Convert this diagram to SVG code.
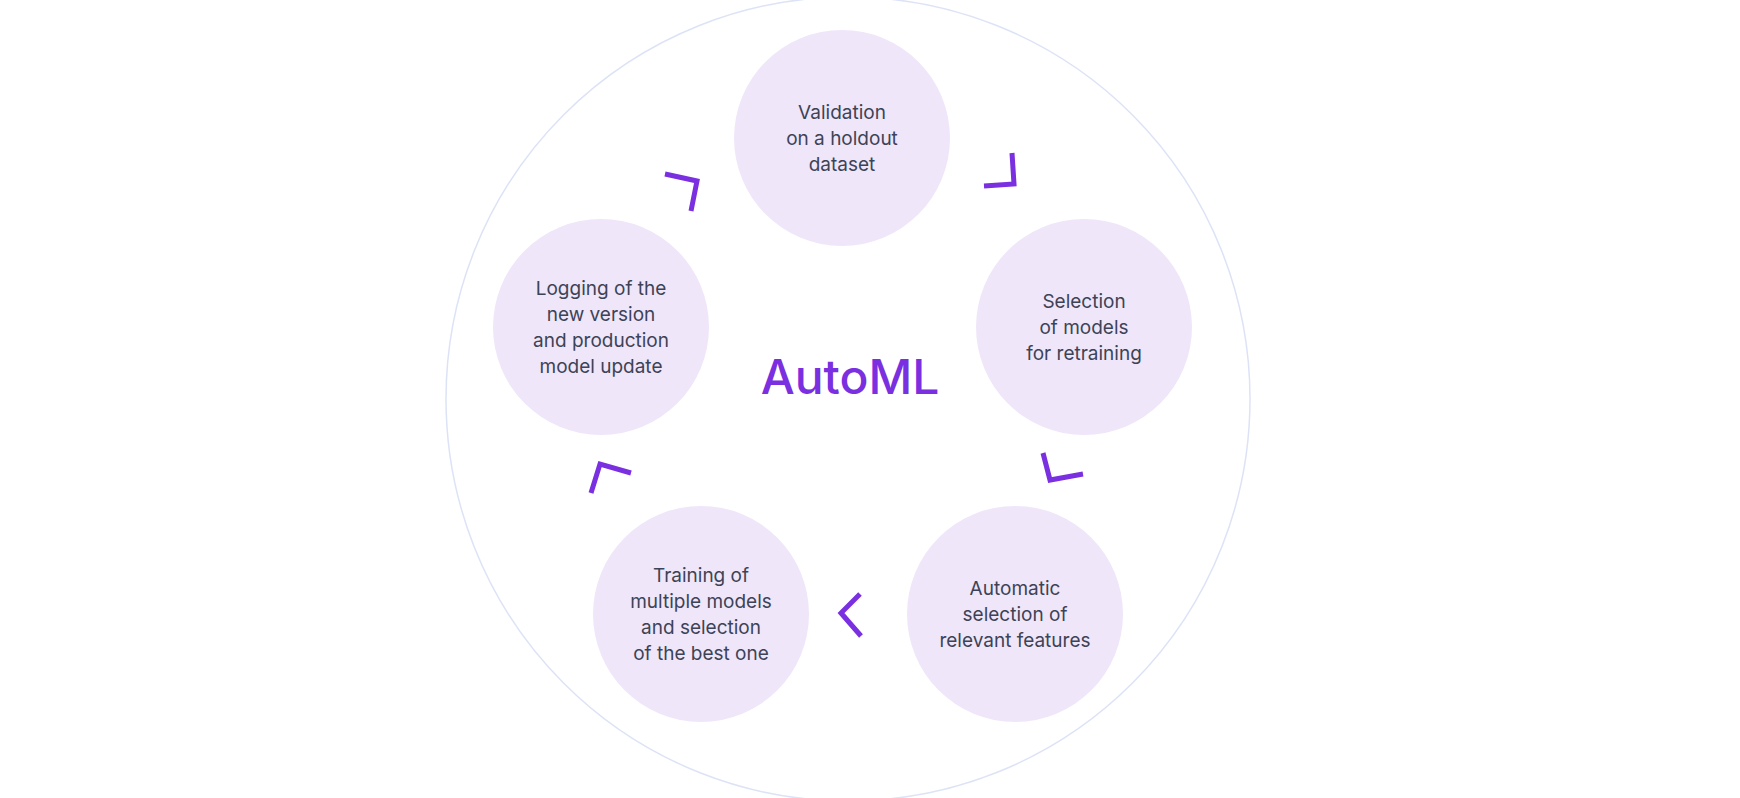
<svg xmlns="http://www.w3.org/2000/svg" width="1740" height="798" viewBox="0 0 1740 798">
<style>
.n{fill:#efe6fa}
.t{font-family:Inter,"Open Sans",sans-serif;font-size:19px;fill:#3d4356;text-anchor:middle}
.c{fill:none;stroke:#7a2fe0;stroke-width:5;stroke-linecap:butt;stroke-linejoin:miter}
</style>
<rect width="1740" height="798" fill="#fff"/>
<circle cx="848" cy="399" r="402" fill="none" stroke="#dde3f6" stroke-width="1.5"/>
<text x="850" y="394" font-family="Inter,'Open Sans',sans-serif" font-size="48" font-weight="500" fill="#7a2fe0" text-anchor="middle">AutoML</text>
<g id="n1"><circle class="n" cx="842" cy="138" r="108"/><text class="t" x="842" y="119">Validation</text><text class="t" x="842" y="145">on a holdout</text><text class="t" x="842" y="171">dataset</text></g>
<g id="n2"><circle class="n" cx="1084" cy="327" r="108"/><text class="t" x="1084" y="308">Selection</text><text class="t" x="1084" y="334">of models</text><text class="t" x="1084" y="360">for retraining</text></g>
<g id="n3"><circle class="n" cx="1015" cy="614" r="108"/><text class="t" x="1015" y="595">Automatic</text><text class="t" x="1015" y="621">selection of</text><text class="t" x="1015" y="647">relevant features</text></g>
<g id="n4"><circle class="n" cx="701" cy="614" r="108"/><text class="t" x="701" y="582">Training of</text><text class="t" x="701" y="608">multiple models</text><text class="t" x="701" y="634">and selection</text><text class="t" x="701" y="660">of the best one</text></g>
<g id="n5"><circle class="n" cx="601" cy="327" r="108"/><text class="t" x="601" y="295">Logging of the</text><text class="t" x="601" y="321">new version</text><text class="t" x="601" y="347">and production</text><text class="t" x="601" y="373">model update</text></g>
<g id="connectors">
<polyline class="c" points="984,186 1014,184 1012,153"/>
<polyline class="c" points="1043,453 1050,480 1083,474"/>
<polyline class="c" points="860,594 841,613 861,636"/>
<polyline class="c" points="591,493 600,464 631,473"/>
<polyline class="c" points="665,174 697,181 691,211"/>
</g>
</svg>
